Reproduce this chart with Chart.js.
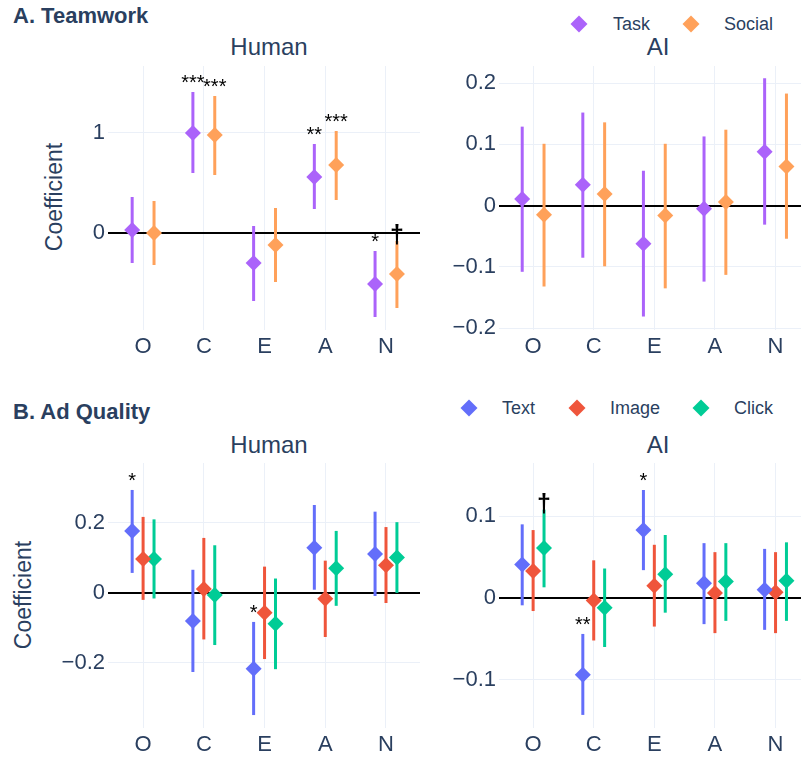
<!DOCTYPE html>
<html>
<head>
<meta charset="utf-8">
<script src="https://cdn.jsdelivr.net/npm/chart.js@4.4.1/dist/chart.umd.min.js"></script>
<style>
  body { margin: 0; background: #fff; }
  #wrap { position: relative; width: 809px; height: 759px; overflow: hidden; background: #fff;
          font-family: "Liberation Sans", Arial, sans-serif; color: #2a3f5f; }
  #wrap canvas { position: absolute; }
  .txt { position: absolute; white-space: nowrap; line-height: 1; }
  .head { font-weight: bold; font-size: 22px; }
  .ptitle { font-size: 24px; transform: translate(-50%, -50%); }
  .ytitle { font-size: 23px; transform: translate(-50%, -50%) rotate(-90deg); }
  .leg { font-size: 18px; transform: translateY(-50%); }
  .dia { position: absolute; width: 12px; height: 12px; transform: translate(-50%, -50%) rotate(45deg); }
</style>
</head>
<body>
<div id="wrap"></div>

<script>
// categories (Big Five)
const cats = ["O", "C", "E", "A", "N"];

// ---------- A. Teamwork ----------
const teamNames = ["Task", "Social"];
const teamColors = ["#ab63fa", "#ffa15a"];

const humanTask = [0.03, 1.00, -0.30, 0.56, -0.51];
const humanTaskLo = [-0.30, 0.60, -0.68, 0.24, -0.84];
const humanTaskHi = [0.36, 1.41, 0.07, 0.89, -0.18];
const humanTaskSig = ["", "***", "", "**", "*"];

const humanSocial = [0.00, 0.98, -0.12, 0.68, -0.41];
const humanSocialLo = [-0.32, 0.58, -0.49, 0.33, -0.75];
const humanSocialHi = [0.32, 1.37, 0.25, 1.02, -0.08];
const humanSocialSig = ["", "***", "", "***", "†"];

const aiTask = [0.011, 0.034, -0.062, -0.005, 0.088];
const aiTaskLo = [-0.108, -0.085, -0.181, -0.124, -0.031];
const aiTaskHi = [0.129, 0.152, 0.057, 0.113, 0.208];
const aiTaskSig = ["", "", "", "", ""];

const aiSocial = [-0.015, 0.019, -0.016, 0.006, 0.064];
const aiSocialLo = [-0.132, -0.099, -0.135, -0.113, -0.054];
const aiSocialHi = [0.101, 0.136, 0.101, 0.124, 0.183];
const aiSocialSig = ["", "", "", "", ""];

// ---------- B. Ad Quality ----------
const adNames = ["Text", "Image", "Click"];
const adColors = ["#636efa", "#ef553b", "#00cc96"];

const humanText = [0.177, -0.080, -0.217, 0.129, 0.111];
const humanTextLo = [0.057, -0.226, -0.349, 0.009, -0.009];
const humanTextHi = [0.294, 0.066, -0.083, 0.251, 0.232];
const humanTextSig = ["*", "", "*", "", ""];

const humanImage = [0.097, 0.011, -0.057, -0.017, 0.079];
const humanImageLo = [-0.020, -0.133, -0.189, -0.126, -0.029];
const humanImageHi = [0.217, 0.157, 0.075, 0.092, 0.188];
const humanImageSig = ["", "", "", "", ""];

const humanClick = [0.097, -0.006, -0.088, 0.070, 0.101];
const humanClickLo = [-0.016, -0.149, -0.218, -0.037, 0.000];
const humanClickHi = [0.210, 0.136, 0.041, 0.177, 0.202];
const humanClickSig = ["", "", "", "", ""];

const aiText = [0.041, -0.094, 0.083, 0.018, 0.010];
const aiTextLo = [-0.009, -0.143, 0.034, -0.032, -0.039];
const aiTextHi = [0.090, -0.044, 0.132, 0.067, 0.060];
const aiTextSig = ["", "**", "*", "", ""];

const aiImage = [0.033, -0.003, 0.015, 0.006, 0.007];
const aiImageLo = [-0.016, -0.052, -0.035, -0.043, -0.043];
const aiImageHi = [0.083, 0.046, 0.065, 0.056, 0.056];
const aiImageSig = ["", "", "", "", ""];

const aiClick = [0.061, -0.012, 0.029, 0.020, 0.021];
const aiClickLo = [0.013, -0.060, -0.018, -0.028, -0.028];
const aiClickHi = [0.108, 0.036, 0.077, 0.067, 0.068];
const aiClickSig = ["†", "", "", "", ""];

// y tick labels per panel
const teamHumanTicks = [0, 1];
const teamAiTicks = [-0.2, -0.1, 0, 0.1, 0.2];
const adHumanTicks = [-0.2, 0, 0.2];
const adAiTicks = [-0.1, 0, 0.1];

const FONT = "'Liberation Sans', Arial, sans-serif";
const INK = "#2a3f5f";
const GRID = "#ebf0f8";

// error bars under the markers, significance marks above the bars
const errorBars = {
  id: "errorBars",
  beforeDatasetsDraw(chart) {
    const ctx = chart.ctx, xs = chart.scales.x, ys = chart.scales.y;
    chart.data.datasets.forEach(ds => {
      ctx.save();
      ctx.strokeStyle = ds.backgroundColor;
      ctx.lineWidth = 3;
      ds.data.forEach(p => {
        const x = xs.getPixelForValue(p.x);
        ctx.beginPath();
        ctx.moveTo(x, ys.getPixelForValue(p.lo));
        ctx.lineTo(x, ys.getPixelForValue(p.hi));
        ctx.stroke();
      });
      ctx.restore();
    });
  },
  afterDatasetsDraw(chart) {
    const ctx = chart.ctx, xs = chart.scales.x, ys = chart.scales.y;
    ctx.save();
    ctx.fillStyle = "#000";
    ctx.textAlign = "center";
    ctx.textBaseline = "alphabetic";
    chart.data.datasets.forEach(ds => {
      ds.data.forEach(p => {
        if (!p.sig) return;
        const x = xs.getPixelForValue(p.x), y = ys.getPixelForValue(p.hi);
        if (p.sig === "†") {
          // the dagger is drawn larger and sits on the bar end
          ctx.font = "bold 25px " + FONT;
          ctx.fillText(p.sig, x, y + 2);
        } else {
          ctx.font = "20px " + FONT;
          ctx.fillText(p.sig, x, y - 3);
        }
      });
    });
    ctx.restore();
  }
};

function fmt(v) {
  return v < 0 ? "\u2212" + Math.abs(v) : String(v);
}

const wrap = document.getElementById("wrap");

function addText(cls, text, x, y) {
  const d = document.createElement("div");
  d.className = "txt " + cls;
  d.textContent = text;
  d.style.left = x + "px";
  d.style.top = y + "px";
  wrap.appendChild(d);
}

function addLegend(names, colors, marks, texts, y) {
  names.forEach((n, i) => {
    const m = document.createElement("div");
    m.className = "dia";
    m.style.background = colors[i];
    m.style.left = marks[i] + "px";
    m.style.top = y + "px";
    wrap.appendChild(m);
    addText("leg", n, texts[i], y);
  });
}

function makePanel(box, yAxisW, xMin, xMax, yMin, yMax, yTicks, names, colors, series) {
  const cv = document.createElement("canvas");
  cv.width = box.w;
  cv.height = box.h;
  cv.style.left = box.x + "px";
  cv.style.top = box.y + "px";
  wrap.appendChild(cv);

  const step = 0.18;
  const offs = series.length === 2 ? [-step, step] : [-step, 0, step];

  const datasets = series.map((s, k) => ({
    label: names[k],
    backgroundColor: colors[k],
    borderWidth: 0,
    pointStyle: "rectRot",
    pointRadius: 8,
    pointHoverRadius: 8,
    data: cats.map((c, i) => ({ x: i + offs[k], y: s.v[i], lo: s.lo[i], hi: s.hi[i], sig: s.sig[i] }))
  }));

  new Chart(cv, {
    type: "scatter",
    data: { datasets: datasets },
    plugins: [errorBars],
    options: {
      responsive: false,
      animation: false,
      devicePixelRatio: 1,
      layout: { padding: { top: 20, left: 0, right: 0, bottom: 0 } },
      plugins: { legend: { display: false }, tooltip: { enabled: false } },
      scales: {
        x: {
          type: "linear",
          min: xMin, max: xMax,
          afterBuildTicks: sc => { sc.ticks = cats.map((c, i) => ({ value: i })); },
          afterFit: sc => { sc.height = 30; },
          grid: { color: GRID, lineWidth: 1, drawTicks: false },
          border: { display: false },
          ticks: { padding: 4, color: INK, font: { size: 22, family: FONT }, callback: v => cats[v] }
        },
        y: {
          min: yMin, max: yMax,
          afterBuildTicks: sc => { sc.ticks = yTicks.map(v => ({ value: v })); },
          afterFit: sc => { sc.width = yAxisW; },
          grid: {
            drawTicks: false,
            color: ctx => ctx.tick && ctx.tick.value === 0 ? "#000" : GRID,
            lineWidth: ctx => ctx.tick && ctx.tick.value === 0 ? 2 : 1
          },
          border: { display: false },
          ticks: { padding: 3, color: INK, font: { size: 22, family: FONT }, callback: v => fmt(v) }
        }
      }
    }
  });
}

// headings, titles, legends
addText("head", "A. Teamwork", 13, 5);
addText("head", "B. Ad Quality", 13, 401);
addText("ptitle", "Human", 269, 47);
addText("ptitle", "AI", 658, 47);
addText("ptitle", "Human", 269, 445);
addText("ptitle", "AI", 658, 445);
addText("ytitle", "Coefficient", 54, 197);
addText("ytitle", "Coefficient", 23, 595);
addLegend(teamNames, teamColors, [579, 691], [613, 724], 24);
addLegend(adNames, adColors, [469, 577, 701], [502, 610, 734], 408);

makePanel({ x: 0, y: 46, w: 428, h: 314 }, 108, -0.578, 4.56, -0.97, 1.67, teamHumanTicks, teamNames, teamColors, [
  { v: humanTask, lo: humanTaskLo, hi: humanTaskHi, sig: humanTaskSig },
  { v: humanSocial, lo: humanSocialLo, hi: humanSocialHi, sig: humanSocialSig }
]);
makePanel({ x: 400, y: 46, w: 409, h: 314 }, 99, -0.563, 4.42, -0.203, 0.228, teamAiTicks, teamNames, teamColors, [
  { v: aiTask, lo: aiTaskLo, hi: aiTaskHi, sig: aiTaskSig },
  { v: aiSocial, lo: aiSocialLo, hi: aiSocialHi, sig: aiSocialSig }
]);
makePanel({ x: 0, y: 443, w: 428, h: 315 }, 108, -0.578, 4.56, -0.386, 0.371, adHumanTicks, adNames, adColors, [
  { v: humanText, lo: humanTextLo, hi: humanTextHi, sig: humanTextSig },
  { v: humanImage, lo: humanImageLo, hi: humanImageHi, sig: humanImageSig },
  { v: humanClick, lo: humanClickLo, hi: humanClickHi, sig: humanClickSig }
]);
makePanel({ x: 400, y: 443, w: 409, h: 315 }, 99, -0.563, 4.42, -0.159, 0.165, adAiTicks, adNames, adColors, [
  { v: aiText, lo: aiTextLo, hi: aiTextHi, sig: aiTextSig },
  { v: aiImage, lo: aiImageLo, hi: aiImageHi, sig: aiImageSig },
  { v: aiClick, lo: aiClickLo, hi: aiClickHi, sig: aiClickSig }
]);
</script>
</body>
</html>
